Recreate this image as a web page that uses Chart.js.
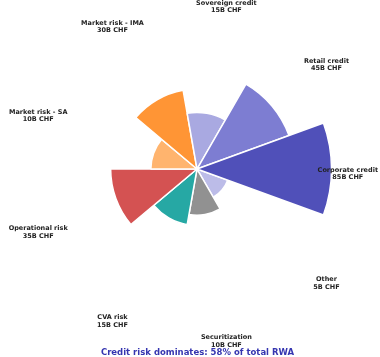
<!DOCTYPE html>
<html>
<head>
<meta charset="utf-8">
<script src="https://cdn.jsdelivr.net/npm/chart.js@4.4.1/dist/chart.umd.min.js"></script>
<style>
  html, body { margin: 0; padding: 0; background: #fff; }
</style>
</head>
<body>
<canvas id="rwaChart" width="380" height="357"></canvas>
<script>
// RWA breakdown (billions CHF), counter-clockwise from the right
const categories = ['Corporate credit', 'Retail credit', 'Sovereign credit', 'Market risk - IMA',
  'Market risk - SA', 'Operational risk', 'CVA risk', 'Securitization', 'Other'];
const rwaValues = [85, 45, 15, 30, 10, 35, 15, 10, 5];
const sliceColors = ['#5050b9', '#7d7dd2', '#a9a9e1', '#ff9535', '#ffb46e',
  '#d45252', '#26a8a4', '#919191', '#bcbce8'];
const valueUnit = 'B CHF';
const titleText = 'Credit risk dominates: 58% of total RWA';

// Chart.js walks clockwise, the original goes counter-clockwise -> reverse
const order = categories.map((_, i) => i).reverse();

const labelPlugin = {
  id: 'rwaLabels',
  afterDraw(chart) {
    const ctx = chart.ctx;
    const meta = chart.getDatasetMeta(0);
    ctx.save();
    ctx.fillStyle = '#222';
    ctx.font = 'bold 6.5px "DejaVu Sans"';
    ctx.textAlign = 'center';
    ctx.textBaseline = 'middle';
    meta.data.forEach((arc, k) => {
      const i = order[k];
      const mid = (arc.startAngle + arc.endAngle) / 2;
      let x = arc.x + 169 * Math.cos(mid);
      const y = arc.y + 5 + 170 * Math.sin(mid);
      const lines = [categories[i], rwaValues[i] + valueUnit];
      const w = Math.max(...lines.map(t => ctx.measureText(t).width));
      x = Math.min(Math.max(x, w / 2 + 2), chart.width - w / 2 - 2);
      ctx.fillText(lines[0], x, y - 3.7);
      ctx.fillText(lines[1], x, y + 3.7);
    });

    // title at the bottom
    ctx.fillStyle = '#3535b0';
    ctx.font = 'bold 8.5px "DejaVu Sans"';
    ctx.fillText(titleText, chart.width / 2 + 7.5, 352.5);
    ctx.restore();
  }
};

new Chart(document.getElementById('rwaChart'), {
  type: 'polarArea',
  data: {
    labels: order.map(i => categories[i]),
    datasets: [{
      // radius ~ sqrt(value) so wedge area tracks RWA
      data: order.map(i => Math.sqrt(rwaValues[i])),
      backgroundColor: order.map(i => sliceColors[i]),
      borderColor: '#ffffff',
      borderWidth: 1.5
    }]
  },
  options: {
    responsive: false,
    animation: false,
    layout: { padding: { left: 14, right: 0, top: 0, bottom: 19 } },
    plugins: {
      legend: { display: false },
      tooltip: { enabled: false }
    },
    scales: {
      r: {
        display: false,
        min: 0,
        max: 11.58,
        startAngle: 110
      }
    }
  },
  plugins: [labelPlugin]
});
</script>
</body>
</html>
